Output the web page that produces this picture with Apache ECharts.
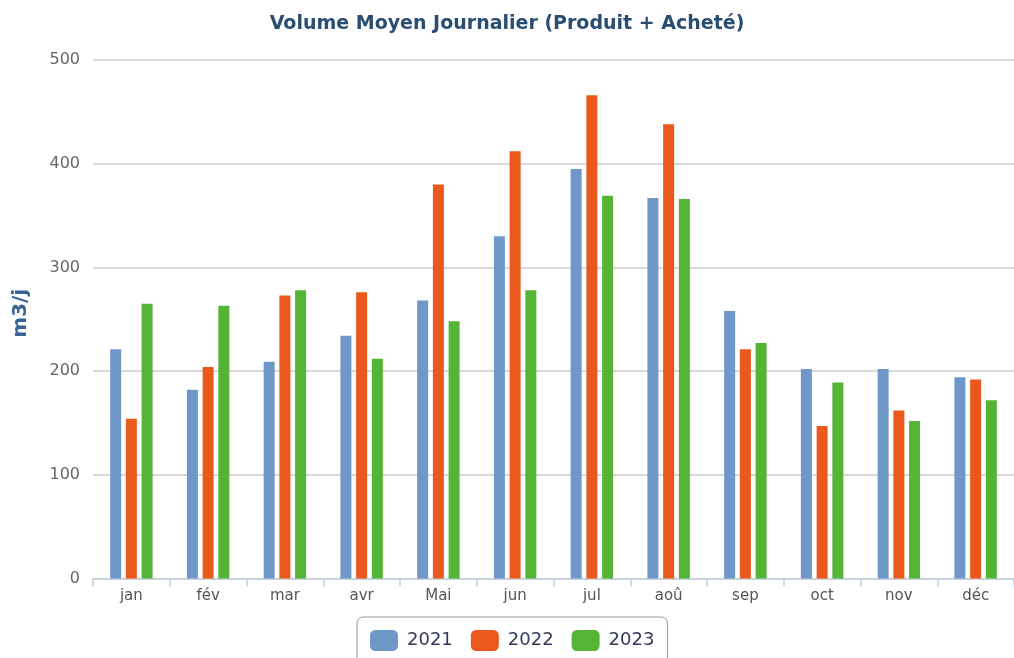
<!DOCTYPE html>
<html>
<head>
<meta charset="utf-8">
<script src="https://cdn.jsdelivr.net/npm/echarts@6/dist/echarts.min.js"></script>
<style>html,body{margin:0;padding:0;background:#fff}#c{width:1014px;height:658px}</style>
</head>
<body>
<div id="c"></div>
<script>
var categories = ['jan','fév','mar','avr','Mai','jun','jul','aoû','sep','oct','nov','déc'];
var v2021 = [221, 182, 209, 234, 268, 330, 395, 367, 258, 202, 202, 194];
var v2022 = [154, 204, 273, 276, 380, 412, 466, 438, 221, 147, 162, 192];
var v2023 = [265, 263, 278, 212, 248, 278, 369, 366, 227, 189, 152, 172];
var yTicks = [0, 100, 200, 300, 400, 500];

var FONT = 'DejaVu Sans';
var chart = echarts.init(document.getElementById('c'), null, {renderer: 'canvas'});
function bar(name, data, color) {
  return {
    name: name, type: 'bar', data: data, barWidth: 11, barGap: '43%',
    itemStyle: {color: color},
    emphasis: {disabled: true}
  };
}
chart.setOption({
  animation: false,
  backgroundColor: '#ffffff',
  title: {
    text: 'Volume Moyen Journalier (Produit + Acheté)',
    left: 'center', top: 10,
    textStyle: {fontFamily: FONT, fontSize: 19, fontWeight: 'bold', color: '#2a4d72'}
  },
  legend: {
    top: 617, left: 357,
    itemWidth: 28, itemHeight: 21, itemGap: 18,
    icon: 'roundRect',
    borderColor: '#9a9a9a', borderWidth: 1, borderRadius: 6,
    padding: [13, 13, 14, 13],
    textStyle: {fontFamily: FONT, fontSize: 18, color: '#34395a', padding: [0, 0, 0, 4]},
    data: ['2021', '2022', '2023']
  },
  grid: {left: 93, top: 60, width: 926, bottom: 79.5, containLabel: false},
  xAxis: {
    type: 'category', data: categories,
    axisLine: {lineStyle: {color: '#c0d0e0', width: 1.5}},
    axisTick: {show: true, length: 8, lineStyle: {color: '#c0d0e0', width: 1.5}},
    axisLabel: {fontFamily: FONT, fontSize: 15, color: '#555555', margin: 10}
  },
  yAxis: {
    type: 'value', min: yTicks[0], max: yTicks[yTicks.length - 1], interval: 100,
    name: 'm3/j', nameLocation: 'middle', nameGap: 62, nameRotate: 90,
    nameTextStyle: {fontFamily: FONT, fontSize: 20, fontWeight: 'bold', color: '#3a6393', padding: [0, 0, 0, 12]},
    axisLine: {show: false}, axisTick: {show: false},
    axisLabel: {fontFamily: FONT, fontSize: 16, color: '#666666', margin: 13},
    splitLine: {lineStyle: {color: '#cccccc', width: 1.5}}
  },
  series: [
    bar('2021', v2021, '#6f98c9'),
    bar('2022', v2022, '#eb581c'),
    bar('2023', v2023, '#53b435')
  ]
});
</script>
</body>
</html>
